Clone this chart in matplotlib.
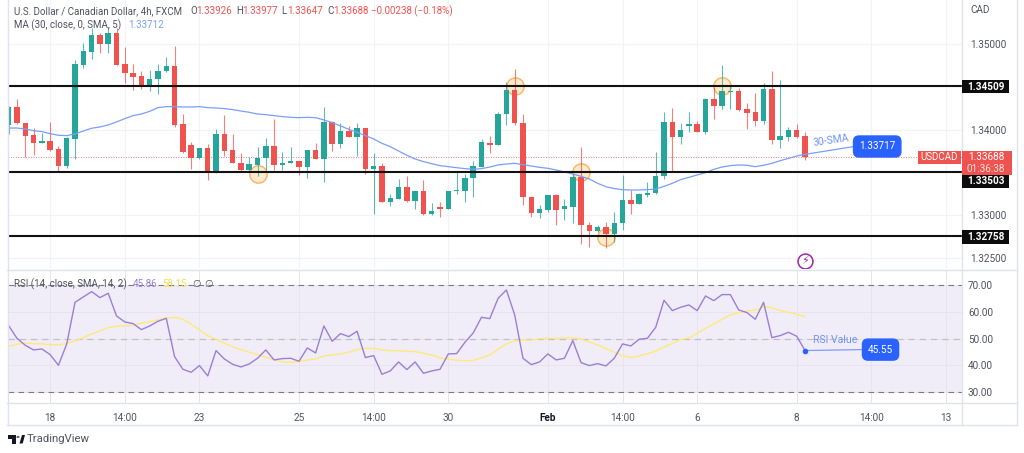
import matplotlib
matplotlib.use('Agg')
import matplotlib.pyplot as plt
from matplotlib.patches import Polygon, Circle, Rectangle
import numpy as np

plt.rcParams['font.family'] = ['Roboto', 'DejaVu Sans']

opens = [1.34055,1.34265,1.34086,1.33938,1.33848,1.33871,1.33778,1.33579,1.33899,1.34764,
         1.34917,1.35108,1.35010,1.35135,1.34768,1.34663,1.34632,1.34527,1.34601,1.34686,
         1.34745,1.34070,1.33828,1.33672,1.33789,1.33501,1.33957,1.33762,1.33618,1.33528,
         1.33594,1.33668,1.33817,1.33594,1.33614,1.33633,1.33571,1.33762,1.33661,1.34098,
         1.33840,1.33984,1.33922,1.34020,1.33540,1.33583,1.33154,1.33193,1.33337,1.33165,
         1.33282,1.33021,1.33103,1.33072,1.33282,1.33286,1.33434,1.33571,1.33852,1.33828,
         1.34187,1.34464,1.34086,1.33216,1.33025,1.33068,1.33239,1.33072,1.33103,1.33454,
         1.32888,1.32818,1.32861,1.32779,1.32912,1.33177,1.33138,1.33243,1.33259,1.33462,
         1.34098,1.33922,1.34051,1.34070,1.33977,1.34359,1.34285,1.34449,1.34456,1.34246,
         1.34211,1.34109,1.34480,1.33883,1.33922,1.33996,1.33926]
highs = [1.34281,1.34367,1.34086,1.34020,1.33961,1.34090,1.33817,1.33922,1.34819,1.35014,
         1.35190,1.35131,1.35209,1.35190,1.34967,1.34768,1.34690,1.34702,1.34768,1.34850,
         1.34983,1.34187,1.33863,1.33789,1.33832,1.34008,1.34176,1.33949,1.33735,1.33680,
         1.33801,1.33910,1.34133,1.33739,1.33801,1.33633,1.33770,1.33844,1.34273,1.34109,
         1.34078,1.34047,1.34078,1.34020,1.33727,1.33618,1.33251,1.33423,1.33462,1.33282,
         1.33415,1.33150,1.33161,1.33290,1.33524,1.33481,1.33641,1.33891,1.33930,1.34215,
         1.34566,1.34714,1.34187,1.33220,1.33122,1.33239,1.33247,1.33189,1.33501,1.33797,
         1.32920,1.32885,1.32927,1.33044,1.33470,1.33298,1.33259,1.33395,1.33739,1.34211,
         1.34254,1.34086,1.34207,1.34105,1.34371,1.34507,1.34761,1.34519,1.34495,1.34312,
         1.34437,1.34546,1.34690,1.34585,1.34031,1.34066,1.33977]
lows = [1.33949,1.34070,1.33688,1.33708,1.33848,1.33758,1.33505,1.33551,1.33657,1.34722,
        1.34835,1.34905,1.34905,1.34764,1.34546,1.34468,1.34484,1.34456,1.34421,1.34683,
        1.34039,1.33735,1.33548,1.33665,1.33415,1.33501,1.33700,1.33610,1.33524,1.33524,
        1.33466,1.33532,1.33532,1.33532,1.33610,1.33473,1.33434,1.33661,1.33395,1.33758,
        1.33793,1.33922,1.33696,1.33485,1.33021,1.33154,1.33115,1.33193,1.33154,1.33072,
        1.33005,1.33005,1.32986,1.33072,1.33247,1.33154,1.33212,1.33571,1.33727,1.33828,
        1.34062,1.34062,1.33126,1.32986,1.32974,1.33044,1.32885,1.32947,1.32912,1.32662,
        1.32635,1.32810,1.32615,1.32693,1.32826,1.33021,1.33138,1.33220,1.33247,1.33431,
        1.33520,1.33836,1.33977,1.33973,1.33957,1.34129,1.34242,1.34250,1.34226,1.34008,
        1.34051,1.34070,1.33840,1.33793,1.33875,1.33902,1.33647]
closes = [1.34265,1.34086,1.33934,1.33848,1.33871,1.33770,1.33579,1.33902,1.34772,1.34920,
          1.35108,1.35010,1.35135,1.34764,1.34663,1.34624,1.34527,1.34601,1.34690,1.34745,
          1.34059,1.33743,1.33672,1.33789,1.33501,1.33957,1.33754,1.33614,1.33528,1.33602,
          1.33676,1.33817,1.33594,1.33618,1.33637,1.33571,1.33762,1.33661,1.34098,1.33836,
          1.33984,1.33922,1.34020,1.33540,1.33583,1.33154,1.33200,1.33337,1.33165,1.33282,
          1.33021,1.33056,1.33072,1.33290,1.33294,1.33438,1.33579,1.33856,1.33828,1.34191,
          1.34464,1.34082,1.33212,1.33025,1.33076,1.33239,1.33068,1.33107,1.33454,1.32885,
          1.32818,1.32865,1.32779,1.32916,1.33177,1.33138,1.33247,1.33263,1.33462,1.34094,
          1.33922,1.34000,1.34066,1.33973,1.34363,1.34285,1.34456,1.34456,1.34234,1.34203,
          1.34109,1.34480,1.33883,1.33926,1.33996,1.33918,1.33688]
ma30 = [1.34023,1.34023,1.34012,1.33992,1.33981,1.33957,1.33938,1.33934,1.33953,1.33988,
        1.34020,1.34035,1.34059,1.34094,1.34133,1.34168,1.34187,1.34218,1.34261,1.34273,
        1.34273,1.34269,1.34269,1.34273,1.34261,1.34257,1.34250,1.34238,1.34222,1.34207,
        1.34187,1.34179,1.34168,1.34156,1.34148,1.34144,1.34148,1.34144,1.34117,1.34086,
        1.34047,1.34008,1.33973,1.33934,1.33895,1.33844,1.33805,1.33754,1.33704,1.33661,
        1.33630,1.33606,1.33583,1.33571,1.33559,1.33548,1.33540,1.33548,1.33567,1.33591,
        1.33602,1.33610,1.33594,1.33579,1.33563,1.33552,1.33532,1.33509,1.33485,1.33458,
        1.33427,1.33376,1.33337,1.33314,1.33302,1.33298,1.33298,1.33302,1.33310,1.33341,
        1.33376,1.33419,1.33446,1.33474,1.33501,1.33540,1.33567,1.33583,1.33591,1.33587,
        1.33571,1.33587,1.33610,1.33641,1.33668,1.33696,1.33715]
rsi = [54.84,50.12,47.52,45.78,46.15,44.04,40.06,48.01,63.54,65.53,
       67.52,65.28,66.89,58.45,56.21,55.59,53.35,54.72,56.46,57.58,
       43.29,38.57,37.45,39.94,36.09,45.53,42.42,40.43,39.44,40.56,
       42.67,45.78,42.05,42.55,42.67,41.55,46.52,44.66,54.72,49.01,
       51.86,50.75,52.73,42.92,43.66,36.71,37.95,41.30,38.45,41.30,
       37.08,37.95,38.57,44.29,44.41,48.63,52.11,57.95,57.45,65.03,
       68.14,58.82,42.67,40.31,41.30,44.29,42.05,42.67,49.25,41.06,
       39.94,40.68,39.81,42.67,48.01,47.27,49.75,50.12,54.22,64.29,
       60.43,61.68,62.55,60.43,65.90,64.16,66.40,66.40,60.68,59.69,
       57.20,63.54,50.37,51.12,52.36,50.87,45.55]
rsi_ma = [47.14,47.89,48.39,48.14,48.01,47.76,47.64,48.26,49.13,50.37,
          51.74,52.86,54.10,54.60,54.72,55.09,55.71,56.34,56.96,57.58,
          57.95,57.20,55.34,53.23,51.12,49.75,48.26,47.02,45.90,44.91,
          44.04,43.04,42.17,41.30,41.18,41.43,42.05,42.42,43.54,43.91,
          44.29,44.91,45.90,46.40,46.40,45.78,45.53,45.53,45.28,45.16,
          44.53,43.91,42.80,42.30,41.93,41.80,41.80,42.92,43.91,46.02,
          48.01,49.25,49.50,49.38,50.00,50.12,50.12,50.25,50.37,49.88,
          48.76,47.64,46.27,44.91,43.54,42.92,43.54,44.29,45.40,46.77,
          48.14,49.63,50.25,51.99,53.85,55.47,57.20,58.82,59.69,60.31,
          60.56,61.93,61.55,60.43,59.81,59.07,58.20]

levels = [1.34509, 1.33503, 1.32758]
level_labels = ['1.34509', '1.33503', '1.32758']
price_ticks = [1.325, 1.33, 1.34, 1.35]
price_labels = ['1.32500', '1.33000', '1.34000', '1.35000']
rsi_ticks = [30, 40, 50, 60, 70]
rsi_labels = ['30.00', '40.00', '50.00', '60.00', '70.00']
time_ticks = [5, 14, 23, 35, 44, 53, 65, 74, 83, 95, 104, 113]
time_labels = ['18', '14:00', '23', '25', '14:00', '30', 'Feb', '14:00', '6', '8', '14:00', '13']
circle_bars = [30, 61, 69, 72, 86]
circle_prices = [1.33489, 1.34511, 1.33512, 1.32752, 1.34515]

GREEN = '#26a69a'
RED = '#ef5350'
BLUE = '#2962ff'
LINE_BLUE = '#7b9ef8'
GRID = '#f0f3fa'
BORDER = '#e0e3eb'
TEXT = '#50535e'
W, H = 1024, 453

def box(l, t, r, b):
    return [l / W, 1 - b / H, (r - l) / W, (b - t) / H]

def ftext(x, y, s, **kw):
    kw.setdefault('va', 'center')
    kw.setdefault('color', TEXT)
    kw.setdefault('fontsize', 7.0)
    return fig.text(x / W, 1 - y / H, s, **kw)

fig = plt.figure(figsize=(W / 100, H / 100), dpi=100, facecolor='white')
ax = fig.add_axes(box(8, 0, 961.5, 268))
ax2 = fig.add_axes(box(8, 271, 961.5, 403))
xlim = (-0.08, 114.86)
idx = np.arange(len(closes))
o = np.array(opens)
c = np.array(closes)
cols = [GREEN if c[i] >= o[i] else RED for i in idx]

# main pane
ax.set_xlim(*xlim)
ax.set_ylim(1.32386, 1.35520)
ax.set_xticks(time_ticks)
ax.set_yticks(price_ticks)
ax.set_yticklabels(price_labels)
ax.yaxis.tick_right()
ax.tick_params(axis='y', length=0, pad=6, labelsize=7.2, labelcolor=TEXT)
ax.tick_params(axis='x', length=0, labelbottom=False)
ax.grid(color=GRID, lw=0.8)
ax.set_axisbelow(True)
for s in ax.spines.values():
    s.set_visible(False)

ax.axhline(closes[-1], color=RED, lw=0.6, ls=(0, (1, 2)), zorder=1.5)
ax.scatter(circle_bars, circle_prices, s=155, facecolor='#ffb74d4a', edgecolor='#f7b562', lw=1, zorder=1.8)
ax.vlines(idx, lows, highs, colors=cols, lw=0.8, alpha=0.75, zorder=2)
ax.bar(idx, np.abs(c - o), bottom=np.minimum(o, c), width=0.66, color=cols, zorder=3)
ax.plot(idx, ma30, color=LINE_BLUE, lw=0.9, zorder=4)
for lv in levels:
    ax.axhline(lv, color='#111111', lw=1.5, zorder=4)

# 30-SMA note
ax.plot([96, 101.8], [ma30[-1], 1.33805], color=LINE_BLUE, lw=0.9, zorder=4)
ax.text(99.2, 1.33880, '30-SMA', color='#6f95f7', fontsize=7.4, rotation=8, ha='center', va='center')
ax.text(104.7, 1.33807, '1.33717', color='white', fontsize=7.2, ha='center', va='center', zorder=6,
        bbox=dict(boxstyle='round,pad=0.55', fc=BLUE, ec=BLUE))

# lightning mark
ax.scatter([96], [1.32468], s=115, facecolor='white', edgecolor='#9c27b0', lw=1.1, zorder=5)
ax.text(96, 1.32468, '\u26a1', color='#9c27b0', fontsize=8, ha='center', va='center', zorder=6,
        family='DejaVu Sans')

# rsi pane
ax2.set_xlim(*xlim)
ax2.set_ylim(26.0, 75.2)
ax2.axhspan(30, 70, color='#7e57c2', alpha=0.1, lw=0, zorder=0)
ax2.set_yticks(rsi_ticks)
ax2.set_yticklabels(rsi_labels)
ax2.yaxis.tick_right()
ax2.set_xticks(time_ticks)
ax2.set_xticklabels(time_labels)
ax2.tick_params(axis='y', length=0, pad=4.6, labelsize=7.2, labelcolor=TEXT)
ax2.tick_params(axis='x', length=0, pad=7, labelsize=7.2, labelcolor=TEXT)
ax2.get_xticklabels()[6].set_color('#131722')
ax2.get_xticklabels()[6].set_fontweight('bold')
ax2.grid(color='#e6e4ee', lw=0.7)
ax2.set_axisbelow(True)
for s in ax2.spines.values():
    s.set_visible(False)
ax2.axhline(70, color='#787b86', lw=0.8, ls=(0, (5, 4)), zorder=1)
ax2.axhline(30, color='#787b86', lw=0.8, ls=(0, (5, 4)), zorder=1)
ax2.axhline(50, color='#c0bfc8', lw=0.9, ls=(0, (5, 4)), zorder=1)
ax2.plot(idx, rsi_ma, color='#ffe97a', lw=1, zorder=2)
ax2.plot(idx, rsi, color='#9a7fd6', lw=1, zorder=3)
ax2.plot([96, 102.8], [rsi[-1], 45.9], color=LINE_BLUE, lw=0.9, zorder=4)
ax2.scatter([96], [rsi[-1]], s=9, color=BLUE, zorder=5)
ax2.text(99.6, 49.3, 'RSI Value', color='#6f95f7', fontsize=7.6, ha='center', va='center')
ax2.text(105.1, 45.9, '45.55', color='white', fontsize=7.2, ha='center', va='center', zorder=6,
         bbox=dict(boxstyle='round,pad=0.55', fc=BLUE, ec=BLUE))

# frame lines
for y in (269.5, 403, 425):
    fig.add_artist(plt.Line2D([7 / W, 1017 / W], [1 - y / H] * 2, color=BORDER, lw=1))
for x in (7.5, 961.5, 1017):
    fig.add_artist(plt.Line2D([x / W] * 2, [1 - 425 / H, 1], color=BORDER, lw=1))

# price tags on the scale
tags = [(86.5, level_labels[0]), (181.5, level_labels[1]), (237, level_labels[2])]
for y, s in tags:
    fig.add_artist(Rectangle((962 / W, 1 - (y + 6.8) / H), 46.5 / W, 13.6 / H, transform=fig.transFigure,
                             fc='#0c0c0c', ec='none', zorder=8))
    ftext(985.5, y, s, color='white', ha='center', fontsize=7.2, fontweight='bold', zorder=9)
fig.add_artist(Rectangle((962 / W, 1 - 175 / H), 50 / W, 24.3 / H, transform=fig.transFigure,
                         fc=RED, ec='none', zorder=10))
fig.add_artist(Rectangle((917.5 / W, 1 - 164 / H), 43.5 / W, 13.3 / H, transform=fig.transFigure,
                         fc=RED, ec='none', zorder=10))
ftext(939, 157.5, 'USDCAD', color='white', ha='center', fontsize=7, zorder=11)
ftext(986, 157.5, '1.33688', color='white', ha='center', fontsize=7.2, zorder=11)
ftext(986, 168.5, '01:36:38', color='#fbdcdb', ha='center', fontsize=7.2, zorder=11)
ftext(970, 10, 'CAD', fontsize=7.2)

# legends
ftext(14, 11, 'U.S. Dollar / Canadian Dollar, 4h, FXCM')
for x, lab, val in [(190, 'O', '1.33926'), (236, 'H', '1.33977'), (281, 'L', '1.33647'), (327, 'C', '1.33688')]:
    ftext(x, 11, lab)
    ftext(x + 6.5, 11, val, color=RED)
ftext(371, 11, '\u22120.00238 (\u22120.18%)', color=RED)
ftext(14, 25, 'MA (30, close, 0, SMA, 5)')
ftext(128, 25, '1.33712', color=LINE_BLUE)
ftext(14, 284, 'RSI (14, close, SMA, 14, 2)')
ftext(133, 284, '45.86', color='#9a7fd6')
ftext(162, 284, '58.15', color='#f5dc50')
ftext(192, 284, '\u2205', color=TEXT)
ftext(204, 284, '\u2205', color=TEXT)

# logo
for pts in ([(8, 435), (16, 435), (16, 443.5), (12, 443.5), (12, 438.5), (8, 438.5)],
            [(19.5, 443.5), (22, 435), (25, 435), (22.7, 443.5)]):
    fig.add_artist(Polygon([(x / W, 1 - y / H) for x, y in pts], transform=fig.transFigure, fc='#131722', ec='none'))
fig.add_artist(Circle((18 / W, 1 - 437 / H), 1.6 / W, transform=fig.transFigure, fc='#131722', ec='none'))
ftext(27, 439.5, 'TradingView', fontsize=8.2, color='#50535e')

fig.savefig('out.png', dpi=100)
